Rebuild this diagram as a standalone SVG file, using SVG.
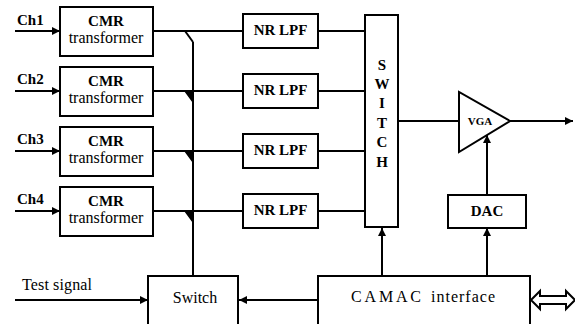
<svg xmlns="http://www.w3.org/2000/svg" width="575" height="324" viewBox="0 0 575 324">
<style>
  .box{fill:#fff;stroke:#000;stroke-width:2}
  .ln{fill:none;stroke:#000;stroke-width:2}
  .arr{fill:none;stroke:#000;stroke-width:2;marker-end:url(#ah)}
  .t{font-family:'Liberation Serif','DejaVu Serif',serif;fill:#000;font-size:15px}
  .n{font-size:16px}
  .b{font-weight:bold}
  .m{text-anchor:middle}
</style>
<defs>
  <marker id="ah" markerUnits="userSpaceOnUse" markerWidth="9" markerHeight="8" refX="8" refY="4" orient="auto">
    <path d="M0,0 L8,4 L0,8 z" fill="#000"/>
  </marker>
</defs>
<rect width="575" height="324" fill="#fff"/>

<g id="connectors">
  <line class="arr" x1="15" y1="31" x2="60" y2="31"/>
  <line class="arr" x1="15" y1="91" x2="60" y2="91"/>
  <line class="arr" x1="15" y1="151" x2="60" y2="151"/>
  <line class="arr" x1="15" y1="211" x2="60" y2="211"/>
  <line class="ln" x1="153" y1="31" x2="243" y2="31"/>
  <line class="ln" x1="153" y1="91" x2="243" y2="91"/>
  <line class="ln" x1="153" y1="151" x2="243" y2="151"/>
  <line class="ln" x1="153" y1="211" x2="243" y2="211"/>
  <line class="ln" x1="193" y1="42" x2="193" y2="276"/>
  <line class="ln" x1="185" y1="31" x2="193" y2="42"/>
  <polygon points="185,91 193,91 193,102" fill="#000" stroke="#000" stroke-width="1.5"/>
  <polygon points="185,151 193,151 193,162" fill="#000" stroke="#000" stroke-width="1.5"/>
  <polygon points="185,211 193,211 193,222" fill="#000" stroke="#000" stroke-width="1.5"/>
  <line class="ln" x1="318" y1="31" x2="365" y2="31"/>
  <line class="ln" x1="318" y1="91" x2="365" y2="91"/>
  <line class="ln" x1="318" y1="151" x2="365" y2="151"/>
  <line class="ln" x1="318" y1="211" x2="365" y2="211"/>
  <line class="ln" x1="398" y1="121" x2="459" y2="121"/>
  <line class="arr" x1="510" y1="121" x2="573" y2="121"/>
  <line class="arr" x1="487" y1="195" x2="487" y2="135"/>
  <line class="arr" x1="487" y1="276" x2="487" y2="228"/>
  <line class="arr" x1="382" y1="276" x2="382" y2="228"/>
  <line class="arr" x1="318" y1="300" x2="239" y2="300"/>
  <line class="arr" x1="15" y1="300" x2="148" y2="300"/>
  <polygon points="531,300 540,291 540,296 566,296 566,291 575,300 566,309 566,304 540,304 540,309" fill="#fff" stroke="#000" stroke-width="2"/>
</g>

<g id="labels">
  <text class="t b" x="17" y="25">Ch1</text>
  <text class="t b" x="17" y="84">Ch2</text>
  <text class="t b" x="17" y="144">Ch3</text>
  <text class="t b" x="17" y="204">Ch4</text>
  <text class="t n" x="22" y="290" textLength="70">Test signal</text>
</g>

<g id="cmr1"><rect class="box" x="60" y="7" width="93" height="49"/><text class="t b m" x="106" y="26">CMR</text><text class="t n m" x="106" y="43">transformer</text></g>
<g id="cmr2"><rect class="box" x="60" y="67" width="93" height="49"/><text class="t b m" x="106" y="86">CMR</text><text class="t n m" x="106" y="103">transformer</text></g>
<g id="cmr3"><rect class="box" x="60" y="127" width="93" height="49"/><text class="t b m" x="106" y="146">CMR</text><text class="t n m" x="106" y="163">transformer</text></g>
<g id="cmr4"><rect class="box" x="60" y="187" width="93" height="49"/><text class="t b m" x="106" y="206">CMR</text><text class="t n m" x="106" y="223">transformer</text></g>

<g id="lpf1"><rect class="box" x="243" y="14" width="75" height="34"/><text class="t b m" x="280.5" y="35">NR LPF</text></g>
<g id="lpf2"><rect class="box" x="243" y="74" width="75" height="34"/><text class="t b m" x="280.5" y="95">NR LPF</text></g>
<g id="lpf3"><rect class="box" x="243" y="134" width="75" height="34"/><text class="t b m" x="280.5" y="155">NR LPF</text></g>
<g id="lpf4"><rect class="box" x="243" y="194" width="75" height="34"/><text class="t b m" x="280.5" y="215">NR LPF</text></g>

<g id="switch-mux">
  <rect class="box" x="365" y="15" width="33" height="212"/>
  <text class="t b m" x="382" y="70">S</text>
  <text class="t b m" x="382" y="89">W</text>
  <text class="t b m" x="382" y="108">I</text>
  <text class="t b m" x="382" y="128">T</text>
  <text class="t b m" x="382" y="147">C</text>
  <text class="t b m" x="382" y="167">H</text>
</g>

<g id="vga">
  <polygon points="459,92 459,152 510,121" fill="#fff" stroke="#000" stroke-width="2"/>
  <text class="t b m" x="480" y="125" style="font-size:11px">VGA</text>
</g>

<g id="dac"><rect class="box" x="448" y="195" width="78" height="33"/><text class="t b m" x="487" y="216">DAC</text></g>

<g id="camac"><rect class="box" x="318" y="276" width="212" height="60"/><text class="t n" x="351" y="302" textLength="70">C A M A C</text><text class="t n" x="431" y="302" textLength="64">interface</text></g>

<g id="test-switch"><rect class="box" x="148" y="276" width="90" height="60"/><text class="t n m" x="195" y="303">Switch</text></g>
</svg>
